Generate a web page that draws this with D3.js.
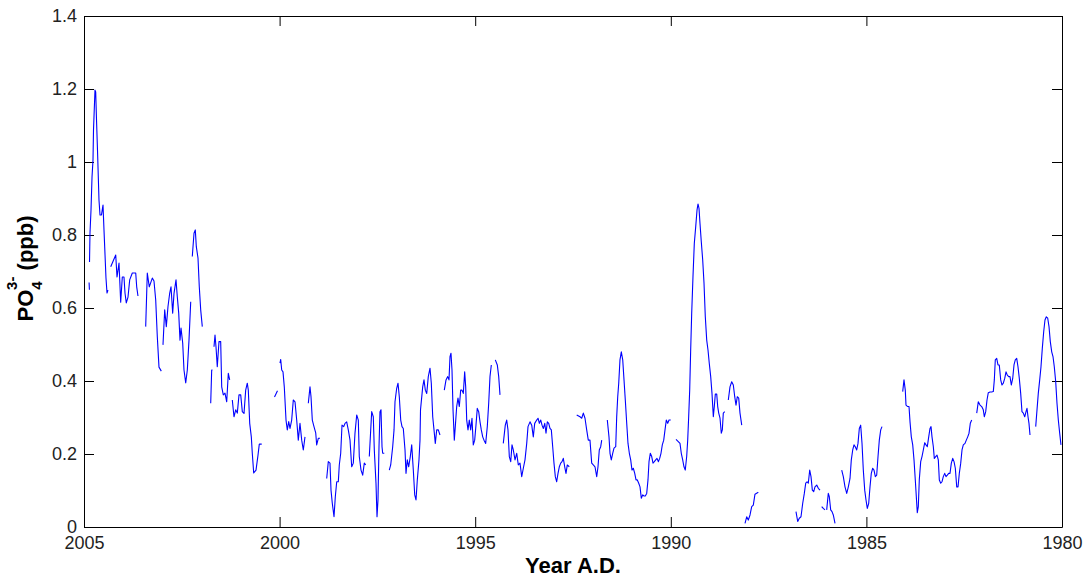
<!DOCTYPE html>
<html>
<head>
<meta charset="utf-8">
<script src="https://cdn.jsdelivr.net/npm/d3@7.9.0/dist/d3.min.js"></script>
<style>
  html, body { margin: 0; padding: 0; background: #fff; }
  svg { display: block; font-family: "Liberation Sans", Arial, sans-serif; }
</style>
</head>
<body>
<div id="chart"></div>
<script>
// sample years (null = gap in the record)
const years = [
  2004.870, 2004.862, null,
  2004.859, 2004.847, 2004.821, 2004.795, 2004.770, 2004.757, 2004.719, 2004.701, 2004.680, 2004.655, 2004.617, 2004.591, 2004.553, 2004.514, 2004.489, 2004.438, 2004.412, 2004.387, null,
  2004.317, 2004.189, 2004.156, 2004.105, 2004.062, 2004.021, 2003.978, 2003.952, 2003.919, 2003.875, 2003.832, 2003.765, 2003.678, 2003.653, 2003.620, null,
  2003.423, 2003.382, 2003.331, 2003.254, 2003.211, 2003.167, 2003.126, 2003.083, 2003.024, null,
  2002.981, 2002.937, 2002.896, 2002.853, 2002.809, 2002.776, 2002.733, 2002.699, 2002.648, 2002.615, 2002.579, 2002.546, 2002.520, 2002.477, 2002.444, 2002.400, 2002.359, 2002.316, 2002.272, null,
  2002.232, 2002.188, 2002.155, 2002.129, 2002.086, 2002.053, 2002.017, 2001.976, null,
  2001.761, 2001.736, 2001.715, null,
  2001.677, 2001.651, 2001.626, 2001.593, 2001.549, 2001.506, 2001.480, 2001.439, 2001.396, 2001.352, 2001.311, 2001.276, null,
  2001.209, 2001.166, 2001.122, 2001.081, 2001.038, 2000.994, 2000.953, 2000.910, 2000.867, 2000.826, 2000.800, 2000.764, 2000.723, 2000.698, 2000.662, 2000.603, 2000.552, 2000.519, 2000.457, null,
  2000.130, 2000.054, null,
  1999.990, 1999.972, 1999.946, 1999.913, 1999.880, 1999.836, 1999.803, 1999.767, 1999.734, 1999.691, 1999.650, 1999.606, 1999.563, 1999.522, 1999.479, 1999.435, 1999.394, 1999.351, null,
  1999.266, 1999.223, 1999.197, 1999.164, 1999.121, 1999.077, 1999.052, 1999.011, 1998.967, null,
  1998.796, 1998.755, 1998.712, 1998.686, 1998.653, 1998.609, 1998.576, 1998.540, 1998.499, 1998.474, 1998.438, 1998.405, 1998.361, 1998.328, 1998.285, 1998.244, 1998.200, 1998.157, 1998.116, 1998.073, 1998.029, 1997.988, 1997.963, 1997.919, 1997.876, 1997.835, 1997.799, null,
  1997.707, 1997.671, 1997.646, 1997.605, 1997.579, 1997.536, 1997.510, 1997.485, 1997.459, 1997.434, 1997.408, 1997.382, 1997.365, 1997.324, null,
  1997.196, 1997.160, 1997.109, 1997.075, 1997.050, 1997.007, 1996.973, 1996.940, 1996.904, 1996.871, 1996.838, 1996.794, 1996.769, 1996.736, 1996.700, 1996.659, 1996.623, 1996.582, 1996.546, 1996.513, 1996.480, 1996.437, 1996.411, 1996.398, 1996.342, 1996.309, 1996.275, 1996.239, 1996.199, 1996.155, 1996.122, 1996.086, 1996.053, 1996.020, 1995.984, 1995.943, 1995.900, null,
  1995.790, 1995.746, 1995.703, 1995.670, 1995.644, 1995.619, 1995.593, 1995.567, 1995.534, 1995.509, 1995.473, 1995.440, 1995.406, 1995.371, 1995.338, 1995.304, 1995.269, 1995.243, 1995.217, 1995.184, 1995.151, 1995.115, 1995.082, 1995.049, 1995.013, 1994.980, 1994.947, 1994.911, 1994.877, 1994.844, 1994.808, 1994.775, 1994.732, 1994.691, 1994.655, 1994.622, 1994.588, null,
  1994.486, 1994.435, 1994.399, 1994.366, null,
  1994.282, 1994.231, 1994.195, 1994.162, 1994.128, 1994.092, 1994.059, 1994.026, 1993.982, 1993.939, 1993.898, 1993.855, 1993.811, 1993.770, 1993.727, 1993.683, 1993.650, 1993.599, 1993.555, 1993.515, 1993.479, 1993.428, 1993.394, 1993.360, 1993.324, 1993.292, 1993.258, 1993.222, 1993.190, 1993.156, 1993.121, 1993.088, 1993.054, 1993.019, 1992.986, 1992.952, 1992.917, 1992.883, 1992.850, 1992.814, 1992.781, 1992.748, 1992.712, 1992.679, 1992.646, 1992.595, null,
  1992.405, 1992.321, 1992.277, 1992.236, 1992.193, 1992.150, 1992.109, 1992.066, 1992.022, 1991.981, 1991.938, 1991.894, 1991.861, 1991.828, 1991.792, 1991.766, null,
  1991.623, 1991.580, 1991.554, 1991.521, 1991.485, 1991.452, 1991.408, 1991.383, 1991.357, 1991.331, 1991.299, 1991.265, 1991.229, 1991.196, 1991.163, 1991.127, 1991.094, 1991.060, 1991.025, 1990.992, 1990.958, 1990.922, 1990.889, 1990.856, 1990.820, 1990.787, 1990.754, 1990.718, 1990.685, 1990.652, 1990.616, 1990.583, 1990.557, 1990.524, 1990.488, 1990.455, 1990.421, 1990.386, 1990.353, 1990.319, 1990.284, 1990.251, 1990.217, 1990.181, 1990.148, 1990.115, 1990.079, 1990.046, 1990.002, null,
  1989.867, 1989.809, 1989.765, 1989.732, 1989.696, 1989.663, 1989.630, 1989.594, 1989.568, 1989.543, 1989.517, 1989.492, 1989.466, 1989.433, 1989.399, 1989.363, 1989.330, 1989.305, 1989.279, 1989.254, 1989.221, 1989.185, 1989.151, 1989.118, 1989.082, 1989.049, 1989.016, 1988.980, 1988.947, 1988.913, 1988.888, 1988.862, 1988.826, 1988.801, 1988.775, 1988.742, 1988.709, 1988.683, 1988.658, 1988.622, null,
  1988.530, 1988.487, 1988.443, 1988.402, 1988.366, 1988.333, 1988.300, 1988.264, 1988.231, 1988.187, null,
  1988.103, 1988.060, 1988.019, 1987.975, 1987.932, 1987.891, 1987.848, 1987.763, null,
  1986.800, 1986.756, 1986.715, 1986.672, 1986.628, 1986.587, 1986.551, 1986.518, 1986.485, 1986.449, 1986.416, 1986.382, 1986.347, 1986.314, 1986.270, 1986.229, 1986.186, null,
  1986.143, 1986.102, 1986.059, null,
  1986.015, 1985.974, 1985.948, 1985.913, 1985.879, 1985.846, 1985.802, null,
  1985.631, 1985.590, 1985.547, 1985.503, 1985.462, 1985.419, 1985.386, 1985.350, 1985.317, 1985.284, 1985.248, 1985.215, 1985.181, 1985.146, 1985.112, 1985.079, 1985.043, 1985.010, 1984.977, 1984.941, 1984.908, 1984.875, 1984.839, 1984.806, 1984.772, 1984.737, 1984.703, 1984.670, 1984.634, 1984.601, null,
  1984.072, 1984.039, 1984.006, 1983.988, 1983.944, 1983.911, 1983.885, 1983.852, 1983.816, 1983.783, 1983.750, 1983.724, 1983.699, 1983.673, 1983.648, 1983.612, 1983.579, 1983.545, 1983.509, 1983.476, 1983.443, 1983.407, 1983.374, 1983.348, 1983.323, 1983.289, 1983.264, 1983.228, 1983.195, 1983.162, 1983.136, 1983.100, 1983.067, 1983.034, 1982.998, 1982.965, 1982.932, 1982.896, 1982.863, 1982.829, 1982.793, 1982.760, 1982.727, 1982.691, 1982.658, 1982.625, 1982.589, 1982.556, 1982.523, 1982.479, 1982.446, 1982.410, 1982.377, 1982.344, 1982.308, null,
  1982.180, 1982.140, 1982.096, 1982.053, 1982.012, 1981.986, 1981.950, 1981.917, 1981.884, 1981.840, 1981.797, 1981.756, 1981.730, 1981.705, 1981.669, 1981.636, 1981.603, 1981.567, 1981.534, 1981.500, 1981.464, 1981.431, 1981.398, 1981.362, 1981.329, 1981.296, 1981.260, 1981.227, 1981.194, 1981.158, 1981.125, 1981.091, 1981.056, 1981.023, 1980.989, 1980.953, 1980.920, 1980.895, 1980.869, 1980.844, 1980.818, null,
  1980.672, 1980.639, 1980.606, 1980.570, 1980.537, 1980.503, 1980.468, 1980.435, 1980.401, 1980.365, 1980.332, 1980.299, 1980.263, 1980.230, 1980.197, 1980.161, 1980.128, 1980.094, 1980.059, 1980.026
];

// PO4 concentration (ppb), same order as years
const po4 = [
  0.67, 0.65, null,
  0.726, 0.805, 0.868, 0.959, 1.005, 1.088, 1.197, 1.192, 1.115, 1.033, 0.896, 0.855, 0.855, 0.882, 0.814, 0.682, 0.641, 0.649, null,
  0.713, 0.745, 0.685, 0.723, 0.616, 0.685, 0.685, 0.641, 0.614, 0.630, 0.677, 0.696, 0.696, 0.658, 0.633, null,
  0.549, 0.696, 0.658, 0.682, 0.674, 0.622, 0.521, 0.438, 0.427, null,
  0.499, 0.595, 0.549, 0.604, 0.641, 0.658, 0.586, 0.640, 0.677, 0.631, 0.586, 0.512, 0.545, 0.504, 0.430, 0.395, 0.430, 0.512, 0.617, null,
  0.741, 0.805, 0.814, 0.768, 0.737, 0.658, 0.595, 0.549, null,
  0.339, 0.430, 0.430, null,
  0.494, 0.526, 0.494, 0.439, 0.508, 0.508, 0.384, 0.362, 0.367, 0.343, 0.421, 0.403, null,
  0.348, 0.302, 0.321, 0.312, 0.362, 0.362, 0.316, 0.311, 0.375, 0.394, 0.375, 0.284, 0.247, 0.202, 0.148, 0.156, 0.197, 0.227, 0.227, null,
  0.356, 0.373, null,
  0.449, 0.459, 0.430, 0.425, 0.384, 0.293, 0.266, 0.289, 0.270, 0.293, 0.348, 0.343, 0.293, 0.238, 0.284, 0.238, 0.211, 0.247, null,
  0.339, 0.384, 0.357, 0.293, 0.275, 0.258, 0.225, 0.243, 0.243, null,
  0.133, 0.179, 0.175, 0.101, 0.065, 0.028, 0.083, 0.124, 0.124, 0.170, 0.202, 0.279, 0.275, 0.284, 0.288, 0.266, 0.238, 0.165, 0.175, 0.257, 0.307, 0.293, 0.193, 0.156, 0.142, 0.175, 0.170, null,
  0.193, 0.266, 0.316, 0.302, 0.211, 0.120, 0.028, 0.074, 0.220, 0.316, 0.321, 0.220, 0.202, 0.202, null,
  0.156, 0.170, 0.220, 0.266, 0.343, 0.380, 0.394, 0.357, 0.293, 0.275, 0.270, 0.211, 0.147, 0.184, 0.165, 0.193, 0.225, 0.156, 0.088, 0.074, 0.129, 0.184, 0.238, 0.321, 0.384, 0.403, 0.375, 0.366, 0.412, 0.435, 0.394, 0.302, 0.266, 0.229, 0.266, 0.266, 0.252, null,
  0.375, 0.403, 0.412, 0.403, 0.467, 0.476, 0.430, 0.321, 0.238, 0.275, 0.330, 0.353, 0.330, 0.375, 0.375, 0.366, 0.425, 0.384, 0.293, 0.266, 0.293, 0.266, 0.298, 0.225, 0.238, 0.279, 0.325, 0.316, 0.288, 0.266, 0.247, 0.238, 0.229, 0.275, 0.339, 0.412, 0.444, null,
  0.458, 0.444, 0.412, 0.362, null,
  0.229, 0.279, 0.293, 0.266, 0.193, 0.179, 0.225, 0.211, 0.184, 0.202, 0.170, 0.175, 0.138, 0.161, 0.184, 0.229, 0.275, 0.288, 0.279, 0.247, 0.284, 0.293, 0.298, 0.284, 0.293, 0.279, 0.270, 0.284, 0.257, 0.288, 0.284, 0.270, 0.266, 0.220, 0.175, 0.138, 0.124, 0.147, 0.165, 0.175, 0.179, 0.188, 0.165, 0.147, 0.170, 0.165, null,
  0.307, 0.302, 0.298, 0.312, 0.298, 0.266, 0.238, 0.238, 0.175, 0.170, 0.165, 0.138, 0.165, 0.211, 0.220, 0.238, null,
  0.293, 0.247, 0.202, 0.184, 0.202, 0.216, 0.220, 0.302, 0.357, 0.394, 0.458, 0.480, 0.458, 0.403, 0.348, 0.284, 0.229, 0.202, 0.184, 0.156, 0.161, 0.147, 0.129, 0.129, 0.120, 0.110, 0.079, 0.088, 0.085, 0.085, 0.092, 0.129, 0.179, 0.202, 0.193, 0.175, 0.179, 0.184, 0.188, 0.179, 0.188, 0.202, 0.225, 0.238, 0.266, 0.293, 0.284, 0.293, 0.293, null,
  0.240, 0.234, 0.229, 0.202, 0.184, 0.165, 0.156, 0.193, 0.238, 0.302, 0.375, 0.485, 0.585, 0.686, 0.777, 0.823, 0.868, 0.885, 0.873, 0.832, 0.782, 0.732, 0.668, 0.576, 0.512, 0.485, 0.448, 0.412, 0.366, 0.302, 0.330, 0.364, 0.364, 0.330, 0.312, 0.298, 0.257, 0.266, 0.312, 0.316, null,
  0.348, 0.384, 0.398, 0.389, 0.357, 0.334, 0.357, 0.353, 0.312, 0.279, null,
  0.010, 0.028, 0.019, 0.033, 0.056, 0.060, 0.090, 0.095, null,
  0.042, 0.015, 0.024, 0.028, 0.065, 0.092, 0.120, 0.124, 0.120, 0.156, 0.138, 0.101, 0.097, 0.110, 0.115, 0.106, 0.101, null,
  0.056, 0.051, 0.047, null,
  0.047, 0.092, 0.083, 0.047, 0.042, 0.033, 0.010, null,
  0.156, 0.138, 0.110, 0.092, 0.110, 0.133, 0.184, 0.211, 0.225, 0.220, 0.211, 0.229, 0.270, 0.279, 0.229, 0.156, 0.101, 0.074, 0.051, 0.065, 0.110, 0.147, 0.161, 0.156, 0.138, 0.142, 0.193, 0.238, 0.266, 0.275, null,
  0.371, 0.403, 0.375, 0.334, 0.330, 0.330, 0.288, 0.247, 0.225, 0.184, 0.129, 0.083, 0.039, 0.056, 0.129, 0.179, 0.193, 0.211, 0.231, 0.225, 0.220, 0.247, 0.270, 0.275, 0.247, 0.220, 0.188, 0.193, 0.197, 0.184, 0.129, 0.120, 0.124, 0.138, 0.147, 0.138, 0.142, 0.147, 0.147, 0.175, 0.188, 0.179, 0.161, 0.110, 0.110, 0.147, 0.175, 0.211, 0.225, 0.229, 0.238, 0.247, 0.257, 0.284, 0.293, null,
  0.312, 0.343, 0.334, 0.330, 0.321, 0.302, 0.316, 0.348, 0.368, 0.370, 0.370, 0.371, 0.403, 0.458, 0.462, 0.444, 0.444, 0.403, 0.389, 0.394, 0.407, 0.425, 0.416, 0.412, 0.412, 0.389, 0.407, 0.444, 0.458, 0.462, 0.439, 0.407, 0.366, 0.316, 0.312, 0.302, 0.316, 0.325, 0.302, 0.284, 0.252, null,
  0.275, 0.321, 0.366, 0.403, 0.439, 0.490, 0.535, 0.567, 0.576, 0.572, 0.549, 0.508, 0.480, 0.467, 0.439, 0.398, 0.339, 0.293, 0.257, 0.225
];

const xTicks = [2005, 2000, 1995, 1990, 1985, 1980];
const yTicks = [0, 0.2, 0.4, 0.6, 0.8, 1, 1.2, 1.4];

const width = 1088, height = 579;
const margin = {top: 16, right: 26, bottom: 52, left: 84};
const tickLen = 10;

const svg = d3.select('#chart')
  .append('svg')
  .attr('width', width)
  .attr('height', height);

// scales (time runs right-to-left)
const x = d3.scaleLinear()
  .domain([2005, 1980])
  .range([margin.left, width - margin.right]);
const y = d3.scaleLinear()
  .domain([0, 1.4])
  .range([height - margin.bottom, margin.top]);

// axes on all four sides, ticks pointing inward
const fmtY = d => String(+d.toFixed(1));

const gx = svg.append('g')
  .attr('transform', `translate(0,${height - margin.bottom})`)
  .call(d3.axisBottom(x).tickValues(xTicks).tickFormat(d3.format('d'))
    .tickSizeInner(-tickLen).tickSizeOuter(0).tickPadding(9));
svg.append('g')
  .attr('transform', `translate(0,${margin.top})`)
  .call(d3.axisTop(x).tickValues(xTicks).tickFormat('')
    .tickSizeInner(-tickLen).tickSizeOuter(0));
const gy = svg.append('g')
  .attr('transform', `translate(${margin.left},0)`)
  .call(d3.axisLeft(y).tickValues(yTicks).tickFormat(fmtY)
    .tickSizeInner(-tickLen).tickSizeOuter(0).tickPadding(7));
svg.append('g')
  .attr('transform', `translate(${width - margin.right},0)`)
  .call(d3.axisRight(y).tickValues(yTicks).tickFormat('')
    .tickSizeInner(-tickLen).tickSizeOuter(0));

svg.selectAll('.domain, .tick line').attr('stroke', '#000');
svg.selectAll('.tick text')
  .attr('fill', '#222')
  .style('font-family', '"Liberation Sans", Arial, sans-serif')
  .style('font-size', '18px');

// data line with gaps
const pts = years.map((yr, i) => ({yr, v: po4[i]}));
const line = d3.line()
  .defined(d => d.yr != null && d.v != null)
  .x(d => x(d.yr))
  .y(d => y(d.v));

svg.append('path')
  .datum(pts)
  .attr('fill', 'none')
  .attr('stroke', '#0000ff')
  .attr('stroke-width', 1.1)
  .attr('stroke-linejoin', 'round')
  .attr('d', line);

// axis titles
svg.append('text')
  .attr('x', (margin.left + width - margin.right) / 2)
  .attr('y', 573)
  .attr('text-anchor', 'middle')
  .style('font-size', '22px')
  .style('font-weight', 'bold')
  .text('Year A.D.');

const yl = svg.append('text')
  .attr('transform', `translate(33,${(margin.top + height - margin.bottom) / 2 - 3}) rotate(-90)`)
  .attr('text-anchor', 'middle')
  .style('font-size', '22px')
  .style('font-weight', 'bold');
yl.append('tspan').text('PO');
yl.append('tspan').attr('dy', 9).style('font-size', '15px').text('4');
yl.append('tspan').attr('dx', -8.5).attr('dy', -25).style('font-size', '15px').text('3-');
yl.append('tspan').attr('dy', 16).text(' (ppb)');
</script>
</body>
</html>
